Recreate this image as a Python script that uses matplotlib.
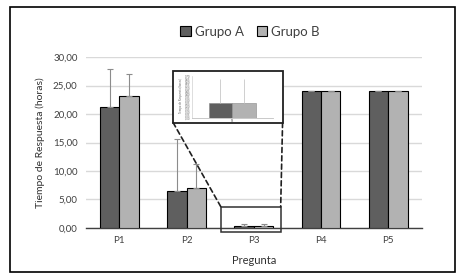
import matplotlib
matplotlib.use("Agg")
import matplotlib.pyplot as plt
import numpy as np
from matplotlib.patches import Rectangle, ConnectionPatch

plt.rcParams['font.family'] = ['Lato', 'DejaVu Sans']

categories = ["P1", "P2", "P3", "P4", "P5"]
grupo_a = [21.2, 6.5, 0.25, 24.0, 24.0]
grupo_b = [23.1, 7.0, 0.25, 24.0, 24.0]
err_a = [6.7, 9.1, 0.4, 0.05, 0.05]
err_b = [4.0, 4.2, 0.4, 0.05, 0.05]
yticks = [0, 5, 10, 15, 20, 25, 30]
inset_ticks = [round(0.05 * i, 2) for i in range(15)]

col_a = "#5f5f5f"
col_b = "#b2b2b2"
err_col = "#8c8c8c"

fig = plt.figure(figsize=(4.64, 2.80), dpi=100)
fig.patch.set_facecolor("white")

# outer frame
fig.patches.append(Rectangle((0.0216, 0.0286), 0.959, 0.946, transform=fig.transFigure,
                             fill=False, edgecolor="black", linewidth=1.2, zorder=0))

ax = fig.add_axes([0.185, 0.186, 0.724, 0.610])
x = np.arange(len(categories))
w = 0.29
ax.bar(x - w / 2, grupo_a, w, color=col_a, edgecolor="black", linewidth=0.8, label="Grupo A", zorder=3)
ax.bar(x + w / 2, grupo_b, w, color=col_b, edgecolor="black", linewidth=0.8, label="Grupo B", zorder=3)
ax.errorbar(x - w / 2, grupo_a, yerr=[np.zeros(5), err_a], fmt="none", ecolor=err_col,
            elinewidth=0.8, capsize=2.5, capthick=0.8, zorder=4)
ax.errorbar(x + w / 2, grupo_b, yerr=[np.zeros(5), err_b], fmt="none", ecolor=err_col,
            elinewidth=0.8, capsize=2.5, capthick=0.8, zorder=4)

ax.set_xlim(-0.5, 4.5)
ax.set_ylim(0, 30)
ax.set_yticks(yticks)
ax.set_yticklabels([f"{v:.2f}".replace(".", ",") for v in yticks], fontsize=7, color="#404040")
ax.set_xticks(x)
ax.set_xticklabels(categories, fontsize=7, color="#404040")
ax.tick_params(axis="both", length=0, pad=6)
ax.grid(axis="y", color="#d9d9d9", linewidth=1.0, zorder=0)
ax.set_axisbelow(True)
for s in ["top", "right", "left"]:
    ax.spines[s].set_visible(False)
ax.spines["bottom"].set_color("#404040")
ax.spines["bottom"].set_linewidth(1.0)
ax.set_ylabel("Tiempo de Respuesta (horas)", fontsize=7.5, color="#303030", labelpad=6)
ax.set_xlabel("Pregunta", fontsize=8, color="#303030", labelpad=7)

# zoom rectangle around P3
rect = Rectangle((1.51, -0.7), 0.89, 4.4, fill=False, edgecolor="#303030", linewidth=1.1,
                 clip_on=False, zorder=5)
ax.add_patch(rect)

# inset frame
bx0, by0, bw, bh = 0.373, 0.5625, 0.236, 0.1835
fig.patches.append(Rectangle((bx0, by0), bw, bh, transform=fig.transFigure,
                             facecolor="white", edgecolor="#202020", linewidth=1.3, zorder=6))

# dashed connectors
for fx, dx in [(bx0, 1.51), (bx0 + bw, 2.40)]:
    con = ConnectionPatch(xyA=(fx, by0), coordsA=fig.transFigure,
                          xyB=(dx, 3.7), coordsB=ax.transData,
                          linestyle=(0, (3, 2)), color="#202020", linewidth=1.2, zorder=6)
    fig.add_artist(con)

# inset axes
iax = fig.add_axes([0.413, 0.580, 0.175, 0.150], zorder=7)
iax.patch.set_alpha(0)
iax.bar([-w / 2], [grupo_a[2]], w, color=col_a, edgecolor="#888888", linewidth=0.4, zorder=3)
iax.bar([w / 2], [grupo_b[2]], w, color=col_b, edgecolor="#888888", linewidth=0.4, zorder=3)
iax.errorbar([-w / 2, w / 2], [grupo_a[2], grupo_b[2]], yerr=[[0, 0], [err_a[2], err_b[2]]],
             fmt="none", ecolor="#c8c8c8", elinewidth=0.6, capsize=0, zorder=4)
iax.set_xlim(-0.5, 0.5)
iax.set_ylim(0, 0.7)
iax.set_yticks(inset_ticks)
iax.set_yticklabels([f"{v:.2f}".replace(".", ",") for v in inset_ticks], fontsize=2.0, color="#606060")
iax.set_xticks([0])
iax.set_xticklabels(["P3"], fontsize=2.0, color="#606060")
iax.tick_params(axis="both", length=0, pad=1)
for s in ["top", "right"]:
    iax.spines[s].set_visible(False)
iax.spines["left"].set_color("#d0d0d0")
iax.spines["left"].set_linewidth(0.5)
iax.spines["bottom"].set_color("#c0c0c0")
iax.spines["bottom"].set_linewidth(0.6)
iax.set_ylabel("Tiempo de Respuesta (horas)", fontsize=2.0, color="#606060", labelpad=1)

# legend
handles, labels = ax.get_legend_handles_labels()
fig.legend(handles, labels, loc="center", bbox_to_anchor=(0.539, 0.886), ncol=2, frameon=False,
           fontsize=9.5, handlelength=0.8, handleheight=0.8, handletextpad=0.3,
           columnspacing=1.0, labelcolor="#404040")

fig.savefig("out.png", dpi=100, facecolor="white")
